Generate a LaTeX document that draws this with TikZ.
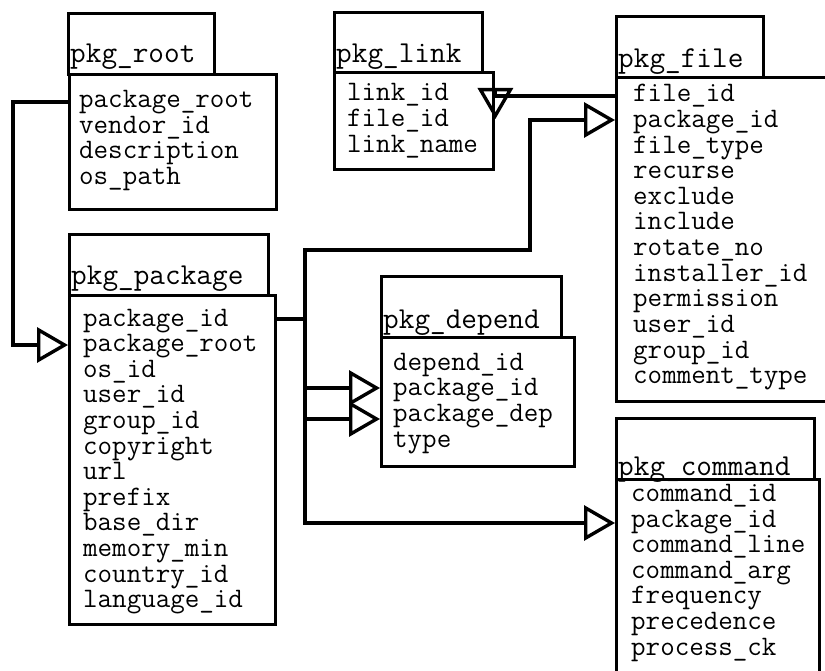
\documentclass[tikz,border=0pt]{standalone}
\usepackage{fontspec}
\usetikzlibrary{arrows.meta}
\begin{document}
\begin{tikzpicture}[x=1pt,y=-1pt,
  tbox/.style={draw,line width=3.4pt,rectangle,inner sep=0pt,anchor=north west},
  ttitle/.style={anchor=base west,inner sep=0pt,text height=14pt,text depth=4pt,
    font=\ttfamily\fontsize{30.4}{31}\selectfont},
  tfield/.style={anchor=base west,inner sep=0pt,text height=14pt,text depth=4pt,
    font=\ttfamily\fontsize{28.2}{29}\selectfont},
  conn/.style={line width=3.4pt,-{Triangle[open,length=31pt,width=35pt]}}]

\path[use as bounding box] (0,0) rectangle (825,671);
\clip (0,0) rectangle (825,671);

% ---- pkg_root ----
\node[tbox,minimum width=146pt,minimum height=61pt] (rootH) at (67,12) {};
\node[tbox,minimum width=207pt,minimum height=135pt] (root) at (68,73) {};
\node[ttitle] (rootT) at (70,63) {pkg\_root};
\foreach \f [count=\i from 0] in {package\_root,vendor\_id,description,os\_path}
  \node[tfield] (root-\i) at (79,107.5+25.6*\i) {\f};

% ---- pkg_link ----
\node[tbox,minimum width=148pt,minimum height=60pt] (linkH) at (333,11) {};
\node[tbox,minimum width=159pt,minimum height=97pt] (link) at (333,71) {};
\node[ttitle] (linkT) at (336,63) {pkg\_link};
\foreach \f [count=\i from 0] in {link\_id,file\_id,link\_name}
  \node[tfield] (link-\i) at (347,101+25.6*\i) {\f};

% ---- pkg_file ----
\node[tbox,minimum width=147pt,minimum height=61pt] (fileH) at (615,15) {};
\node[tbox,minimum width=230pt,minimum height=324pt] (file) at (615,76) {};
\node[ttitle] (fileT) at (618,68) {pkg\_file};
\foreach \f [count=\i from 0] in {file\_id,package\_id,file\_type,recurse,exclude,include,rotate\_no,installer\_id,permission,user\_id,group\_id,comment\_type}
  \node[tfield] (file-\i) at (633,102+25.6*\i) {\f};

% ---- pkg_package ----
\node[tbox,minimum width=199pt,minimum height=61pt] (packageH) at (68,233) {};
\node[tbox,minimum width=206pt,minimum height=329pt] (package) at (68,294) {};
\node[ttitle] (packageT) at (71,285) {pkg\_package};
\foreach \f [count=\i from 0] in {package\_id,package\_root,os\_id,user\_id,group\_id,copyright,url,prefix,base\_dir,memory\_min,country\_id,language\_id}
  \node[tfield] (package-\i) at (83,326+25.6*\i) {\f};

% ---- pkg_depend ----
\node[tbox,minimum width=180pt,minimum height=61pt] (dependH) at (380,275) {};
\node[tbox,minimum width=193pt,minimum height=129pt] (depend) at (380,336) {};
\node[ttitle] (dependT) at (383,328) {pkg\_depend};
\foreach \f [count=\i from 0] in {depend\_id,package\_id,package\_dep,type}
  \node[tfield] (depend-\i) at (393,370+25.7*\i) {\f};

% ---- pkg_command ----
\node[tbox,minimum width=198pt,minimum height=61pt] (commandH) at (615,417) {};
\node[tbox,minimum width=203pt,minimum height=230pt] (command) at (615,478) {};
\node[ttitle] (commandT) at (618,475) {pkg\_command};
\foreach \f [count=\i from 0] in {command\_id,package\_id,command\_line,command\_arg,frequency,precedence,process\_ck}
  \node[tfield] (command-\i) at (631,501.5+25.6*\i) {\f};

% ---- connectors ----
\coordinate (rail) at (13,0);
\coordinate (bus) at (305,250);
\coordinate (riser) at (530,0);

\draw[conn] (root.west |- 0,102) -| (rail |- 0,345) -- (package.west |- 0,345);
\draw[conn] (package.east |- 0,319) -| (bus) -| (riser |- 0,120) -- (file.west |- 0,120);
\draw[conn] (bus |- 0,388) -- (depend.west |- 0,388);
\draw[conn] (bus |- 0,419) -- (depend.west |- 0,419);
\draw[conn] (bus) |- (command.west |- 0,523);
\draw[conn] (file.west |- 0,96) -| (link.east |- 0,119);
\end{tikzpicture}
\end{document}
